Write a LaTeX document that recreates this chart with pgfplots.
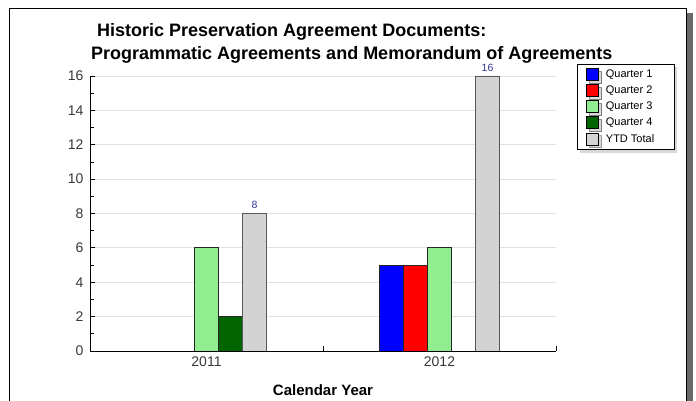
\documentclass[border=0pt]{standalone}
\usepackage{pgfplots}
\pgfplotsset{compat=1.18}
\usepackage{fontspec}
\setmainfont{Liberation Sans}
\usetikzlibrary{shadows}

\definecolor{qone}{HTML}{0000FF}
\definecolor{qtwo}{HTML}{FF0000}
\definecolor{qthree}{HTML}{90EE90}
\definecolor{qfour}{HTML}{006400}
\definecolor{ytd}{HTML}{D3D3D3}
\definecolor{lblblue}{HTML}{33339A}
\definecolor{ticktxt}{HTML}{383838}
\definecolor{gridc}{HTML}{E2E2E2}
\definecolor{shadowc}{HTML}{6A6A6A}

\newcommand{\lpad}{\hspace*{9pt}}

\begin{document}
\begin{tikzpicture}
  \useasboundingbox (0pt,0pt) rectangle (696pt,401pt);
  \clip (0pt,0pt) rectangle (696pt,401pt);
  % frame with shadow on the right
  \fill[shadowc] (687pt,-5pt) rectangle (693pt,388pt);
  \draw[black, line width=0.9pt] (9pt,-5pt) -- (9pt,393pt) -- (686pt,393pt) -- (686pt,-5pt);

  \node[anchor=base west, inner sep=0pt, font=\fontsize{18}{20}\selectfont\bfseries]
    at (97pt,364pt) {Historic Preservation Agreement Documents:};
  \node[anchor=base west, inner sep=0pt, font=\fontsize{18}{20}\selectfont\bfseries]
    at (91pt,341pt) {Programmatic Agreements and Memorandum of Agreements};

  \begin{axis}[
      at={(90pt,50pt)}, anchor=south west,
      scale only axis,
      width=466pt, height=275pt,
      ybar=0pt, bar width=24pt,
      xmin=-0.5, xmax=1.5,
      ymin=0, ymax=16,
      axis x line=bottom, axis y line=left,
      axis line style={-, black, line width=0.9pt},
      tick align=inside,
      xtick={0.5,1.5}, xticklabels={},
      extra x ticks={0,1}, extra x tick labels={2011,2012},
      extra x tick style={major tick length=0pt, grid=none},
      x tick style={black, line width=0.8pt},
      ytick={0,2,...,16},
      minor y tick num=1,
      y tick style={black, line width=0.8pt},
      major tick length=5pt, minor tick length=4pt,
      ymajorgrids,
      major grid style={gridc, line width=0.8pt},
      tick label style={font=\fontsize{14}{16}\selectfont, text=ticktxt},
      /pgf/number format/assume math mode=true,
      yticklabel style={xshift=-3pt},
      xticklabel style={yshift=-2pt},
      xlabel={\bfseries Calendar Year},
      xlabel style={font=\fontsize{15}{17}\selectfont, at={(axis description cs:0.5,0)}, anchor=base, yshift=-45pt},
      legend style={at={(1.0451,1.0436)}, anchor=north west,
        draw=black, fill=white, drop shadow={shadow xshift=3pt, shadow yshift=-3pt, fill=gray!60},
        font=\fontsize{11}{13}\selectfont, row sep=2.8pt,
        inner xsep=9pt, inner ysep=4pt, cells={anchor=west}},
      legend image code/.code={\draw[#1, draw=black, line width=0.6pt] (0pt,-6pt) rectangle (12pt,6pt); \path (17pt,0pt);},
      every axis plot/.append style={draw=black!85, line width=0.8pt},
    ]
    \addplot[fill=qone] coordinates {(1,5)};
    \addlegendentry{Quarter 1\lpad}
    \addplot[fill=qtwo] coordinates {(1,5)};
    \addlegendentry{Quarter 2\lpad}
    \addplot[fill=qthree] coordinates {(0,6) (1,6)};
    \addlegendentry{Quarter 3\lpad}
    \addplot[fill=qfour] coordinates {(0,2)};
    \addlegendentry{Quarter 4\lpad}
    \addplot[fill=ytd, draw=black!65,
      nodes near coords,
      every node near coord/.append style={font=\fontsize{10.5}{12}\selectfont, text=lblblue, yshift=1pt}]
      coordinates {(0,8) (1,16)};
    \addlegendentry{YTD Total\lpad}
  \end{axis}
\end{tikzpicture}
\end{document}
